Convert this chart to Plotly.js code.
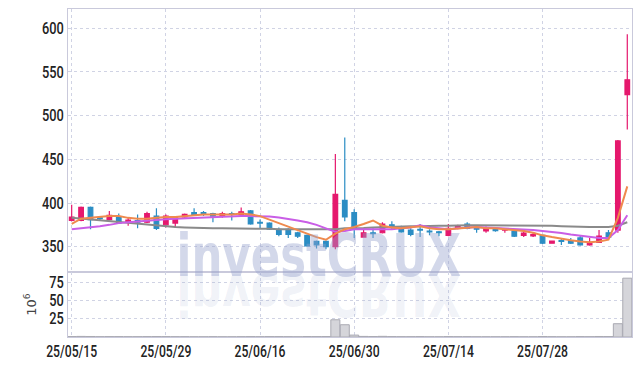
<!DOCTYPE html>
<html>
<head>
<meta charset="utf-8">
<script src="https://cdn.plot.ly/plotly-3.0.1.min.js"></script>
<style>
html,body{margin:0;padding:0;background:#fff;}
#chart{width:642px;height:366px;}
</style>
</head>
<body>
<div id="chart"></div>
<script>
// Trading days (YY/MM/DD)
const dates = [
 "25/05/15","25/05/16","25/05/19","25/05/20","25/05/21","25/05/22","25/05/23","25/05/26","25/05/27","25/05/28",
 "25/05/29","25/05/30","25/06/02","25/06/04","25/06/05","25/06/09","25/06/10","25/06/11","25/06/12","25/06/13",
 "25/06/16","25/06/17","25/06/18","25/06/19","25/06/20","25/06/23","25/06/24","25/06/25","25/06/26","25/06/27",
 "25/06/30","25/07/01","25/07/02","25/07/03","25/07/04","25/07/07","25/07/08","25/07/09","25/07/10","25/07/11",
 "25/07/14","25/07/15","25/07/16","25/07/17","25/07/18","25/07/21","25/07/22","25/07/23","25/07/24","25/07/25",
 "25/07/28","25/07/29","25/07/30","25/07/31","25/08/01","25/08/04","25/08/05","25/08/06","25/08/07","25/08/08"
];
const openP = [
 380,380,395,383,381,384,378,380,378,385,
 375,377,384,389,389,388,385,388,387,391,
 378,377,370,370,366,363,356,356,350,403,
 389,361,366,366,375,371,369,370,368,367,
 363,371,376,371,368,370,369,368,363,362.5,
 363,354,357,357,360,352,355,366,369,524
];
const highP = [
 398,396,396,384,391,388,383,387,390,394,
 387,385,388,394,391,389,390,390,395,392,
 381,378,372,371,367,364,357,357,456,475,
 393,370,371,378,379,374,371,376,370,368,
 376,375,378,372,373,372,371,369,369,366,
 364,357,359,360,363,360,369,369,472,593
];
const lowP = [
 379,379,370,380,380,376,374,371,377,369,
 372,372,383,386,385,378,383,380,386,375,
 371,369,362,360,360,350,348,347,347,379,
 360,361,360,365,369,366,362,361,363,362,
 362,370,370,366,366,367,366,361,361,361,
 353,354,352,353,351,351,355,360,366,484
];
const closeP = [
 384,395,381,382,386,377,380.5,378,388,371,
 385,383,387,387,388,385,388,387,390,376,
 377,370,364,364,362,351,352,350,410,384,
 372,366,365,376,374,367,364,369,367,366,
 371,374,371,370,371,368.5,370,362,365.5,364,
 354,356.5,356,354,352,355,362,361,471,541
];
// Moving averages
const ma5 = [
 376,382,383,384,385,385,383,382,382,383,
 384,384,385,386,387,387,387,387,388,387,
 385,381,377,373,369,365,361,358,365,370,
 372.5,376,380,374,372,371,372,373.5,371,370,
 370,371,372,372.5,371,371,370,369,368,366,
 363,361,359,357.5,356,355,356,358,383,419
];
const ma10 = [
 370,371,372,373.5,375,377,378,379,380,380.5,
 381.5,382,382.5,383,383.5,384,384.5,385,385,385,
 385,384.5,383.5,382,380,378,375,371,367,368,
 370,370,370,370,370,371,372,374.5,372,371,
 370,371,372,372.5,372,371.5,371,370.5,369.5,369,
 368,367,365.6,364,362.5,361,360,360,369,386
];
const ma20 = [
 383,382,381,380.5,379,378,377,376,375,374,
 373,372.5,372,371.5,371,371,371,371,371,371,
 371,370.5,370,370,370,370,370,370,370,371,
 371,371.5,372,372.5,373,373,373.5,373.5,374,374,
 374,374.5,374.5,374.5,374.5,374.5,374.5,374.5,374.5,374.5,
 374,374,373.5,373,372.5,372.5,372.5,372.5,374,378
];
// Volume in millions
const volume = [
 0.6,0.8,0.7,0.4,0.5,0.5,0.4,0.4,0.5,0.6,
 0.5,0.4,0.4,0.3,0.3,0.4,0.3,0.3,0.4,0.5,
 0.4,0.5,0.5,0.4,0.3,0.6,0.5,0.6,23.6,16.8,
 2.6,0.8,0.6,0.9,0.5,0.4,0.4,0.5,0.3,0.3,
 0.5,0.4,0.4,0.3,0.3,0.3,0.3,0.4,0.3,0.3,
 0.6,0.4,0.3,0.3,0.5,0.4,0.7,0.6,18.2,80.6
];
const tickDates = ["25/05/15","25/05/29","25/06/16","25/06/30","25/07/14","25/07/28"];
const priceTicks = [350,400,450,500,550,600];
const volTicks = [25,50,75];

const UP = "#e5186d", DOWN = "#2b8dc4";
const tickFont = {family:"Roboto,'DejaVu Sans',sans-serif", size:16, color:"#222", weight:500};
const gridCol = "#d0d3e4", lineCol = "#c9c9db";

const traces = [
 {type:"bar", x:dates, y:volume, xaxis:"x", yaxis:"y2",
  marker:{color:"#d5d5da", line:{color:"#a9a9b2", width:1}}, hoverinfo:"skip", showlegend:false},
 {type:"candlestick", x:dates, open:openP, high:highP, low:lowP, close:closeP, xaxis:"x", yaxis:"y",
  increasing:{line:{color:UP, width:1.2}, fillcolor:UP},
  decreasing:{line:{color:DOWN, width:1.2}, fillcolor:DOWN},
  whiskerwidth:0, showlegend:false},
 {type:"scatter", mode:"lines", x:dates, y:ma20, xaxis:"x", yaxis:"y", line:{color:"#8a8a8a", width:2}, showlegend:false},
 {type:"scatter", mode:"lines", x:dates, y:ma10, xaxis:"x", yaxis:"y", line:{color:"#c95ee6", width:2}, showlegend:false},
 {type:"scatter", mode:"lines", x:dates, y:ma5, xaxis:"x", yaxis:"y", line:{color:"#ef8a4e", width:2}, showlegend:false}
];

const layout = {
 width:642, height:366,
 margin:{l:68, r:10, t:9, b:29},
 paper_bgcolor:"#fff", plot_bgcolor:"#fff",
 showlegend:false, bargap:0.04,
 xaxis:{type:"category", categoryorder:"array", categoryarray:dates,
   range:[-0.39, 59.5], anchor:"y2", rangeslider:{visible:false},
   tickmode:"array", tickvals:tickDates, ticktext:tickDates, tickangle:0,
   tickfont:tickFont, ticks:"", showgrid:true, gridcolor:gridCol, griddash:"dot", gridwidth:1,
   showline:true, linecolor:lineCol, linewidth:1, mirror:"all", zeroline:false},
 yaxis:{domain:[0.198,1], range:[321,622], tickmode:"array", tickvals:priceTicks,
   tickfont:tickFont, ticks:"", showgrid:true, gridcolor:gridCol, griddash:"dot",
   showline:true, linecolor:lineCol, linewidth:1, mirror:"all", zeroline:false, anchor:"x"},
 yaxis2:{domain:[0,0.198], range:[0,89], tickmode:"array", tickvals:volTicks,
   tickfont:tickFont, ticks:"", showgrid:true, gridcolor:gridCol, griddash:"dot",
   showline:true, linecolor:lineCol, linewidth:1, mirror:"all", zeroline:false, anchor:"x",
   title:{text:"10<sup>6</sup>", font:{family:"'DejaVu Sans',sans-serif", size:13, color:"#444"}, standoff:6}},
 annotations:[
  {text:"investCRUX", xref:"paper", yref:"paper", x:0.445, y:0.247, xanchor:"center", yanchor:"middle",
   showarrow:false, font:{family:"'DejaVu Sans',sans-serif", size:58, color:"rgba(150,163,205,0.42)", weight:"bold"}},
  {text:"investCRUX", xref:"paper", yref:"paper", x:0.445, y:0.13, xanchor:"center", yanchor:"middle",
   showarrow:false, font:{family:"'DejaVu Sans',sans-serif", size:58, color:"rgba(150,163,205,0.15)", weight:"bold"}}
 ]
};

function condense(el, sx, sy, mode) {
  const b = el.getBBox();
  let cx, cy = b.y + b.height/2;
  if (mode === "end") cx = b.x + b.width;
  else cx = b.x + b.width/2;
  const prev = el.getAttribute("transform") || "";
  el.setAttribute("transform", prev + " translate(" + cx + "," + cy + ") scale(" + sx + "," + sy + ") translate(" + (-cx) + "," + (-cy) + ")");
}

Plotly.newPlot("chart", traces, layout, {staticPlot:true, displayModeBar:false}).then(function(){
  const ann = document.querySelectorAll(".annotation-text");
  if (ann.length > 1) {
    condense(ann[0], 0.75, 1, "mid");
    condense(ann[1], 0.75, -1, "mid");
  }
  document.querySelectorAll(".xtick text").forEach(function(t){ condense(t, 0.76, 1, "mid"); });
  document.querySelectorAll(".ytick text, .y2tick text").forEach(function(t){ condense(t, 0.8, 1, "end"); });
});
</script>
</body>
</html>
